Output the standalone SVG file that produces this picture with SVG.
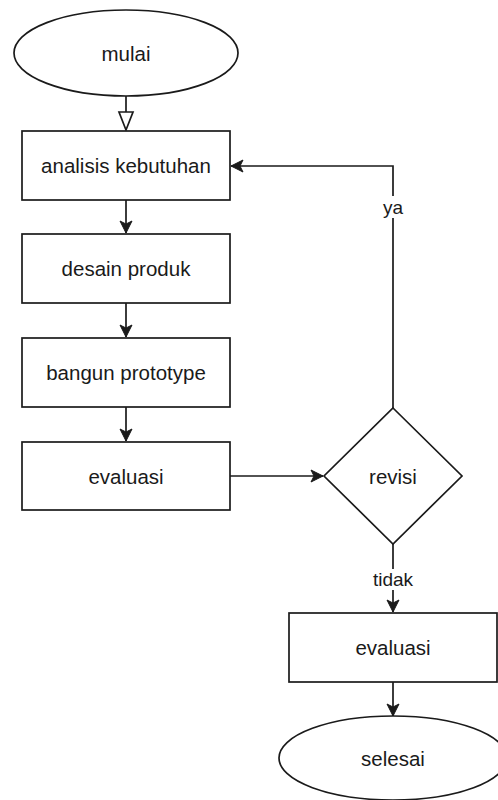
<svg xmlns="http://www.w3.org/2000/svg" width="498" height="800" viewBox="0 0 498 800">
<style>
.shape{fill:#ffffff;stroke:#1a1a1a;stroke-width:1.7}
.lbl{font-family:"Liberation Sans",Arial,sans-serif;font-size:20.5px;fill:#1a1a1a;text-anchor:middle;dominant-baseline:central}
.elbl{font-family:"Liberation Sans",Arial,sans-serif;font-size:19px;fill:#1a1a1a;text-anchor:middle;dominant-baseline:central}
.edge{fill:none;stroke:#1a1a1a;stroke-width:1.7}
</style>
<defs>
<marker id="arr" markerUnits="userSpaceOnUse" viewBox="-13 -7 14 14" refX="0" refY="0" markerWidth="14" markerHeight="14" orient="auto">
<path d="M0,0 L-12,-6 L-9,0 L-12,6 Z" fill="#1a1a1a" stroke="#1a1a1a" stroke-width="1"/>
</marker>
</defs>
<rect width="498" height="800" fill="#ffffff"/>
<g id="connectors">
<line class="edge" x1="126" y1="96" x2="126" y2="112"/>
<polygon points="119,112 133,112 126,130" fill="#ffffff" stroke="#1a1a1a" stroke-width="1.7"/>
<line class="edge" x1="126" y1="200" x2="126" y2="233" marker-end="url(#arr)"/>
<line class="edge" x1="126" y1="303" x2="126" y2="337" marker-end="url(#arr)"/>
<line class="edge" x1="126" y1="407" x2="126" y2="441" marker-end="url(#arr)"/>
<line class="edge" x1="230" y1="476" x2="323" y2="476" marker-end="url(#arr)"/>
<polyline class="edge" points="393,408 393,166 231,166" marker-end="url(#arr)"/>
<rect x="381" y="196" width="24" height="22" fill="#ffffff"/>
<text class="elbl" x="393" y="207">ya</text>
<line class="edge" x1="393" y1="544" x2="393" y2="612" marker-end="url(#arr)"/>
<rect x="371" y="569" width="44" height="21" fill="#ffffff"/>
<text class="elbl" x="393" y="579">tidak</text>
<line class="edge" x1="393" y1="682" x2="393" y2="716" marker-end="url(#arr)"/>
</g>
<g id="mulai">
<ellipse class="shape" cx="126" cy="53" rx="112" ry="43"/>
<text class="lbl" x="126" y="53">mulai</text>
</g>
<g id="analisis">
<rect class="shape" x="22" y="131" width="208" height="69"/>
<text class="lbl" x="126" y="165.5">analisis kebutuhan</text>
</g>
<g id="desain">
<rect class="shape" x="22" y="234" width="208" height="69"/>
<text class="lbl" x="126" y="268.5">desain produk</text>
</g>
<g id="bangun">
<rect class="shape" x="22" y="338" width="208" height="69"/>
<text class="lbl" x="126" y="372.5">bangun prototype</text>
</g>
<g id="evaluasi1">
<rect class="shape" x="22" y="442" width="208" height="68"/>
<text class="lbl" x="126" y="476">evaluasi</text>
</g>
<g id="revisi">
<polygon class="shape" points="393,408 462,476 393,544 324,476"/>
<text class="lbl" x="393" y="476">revisi</text>
</g>
<g id="evaluasi2">
<rect class="shape" x="289" y="613" width="208" height="69"/>
<text class="lbl" x="393" y="647.5">evaluasi</text>
</g>
<g id="selesai">
<ellipse class="shape" cx="393" cy="758" rx="114" ry="42"/>
<text class="lbl" x="393" y="758">selesai</text>
</g>
</svg>
